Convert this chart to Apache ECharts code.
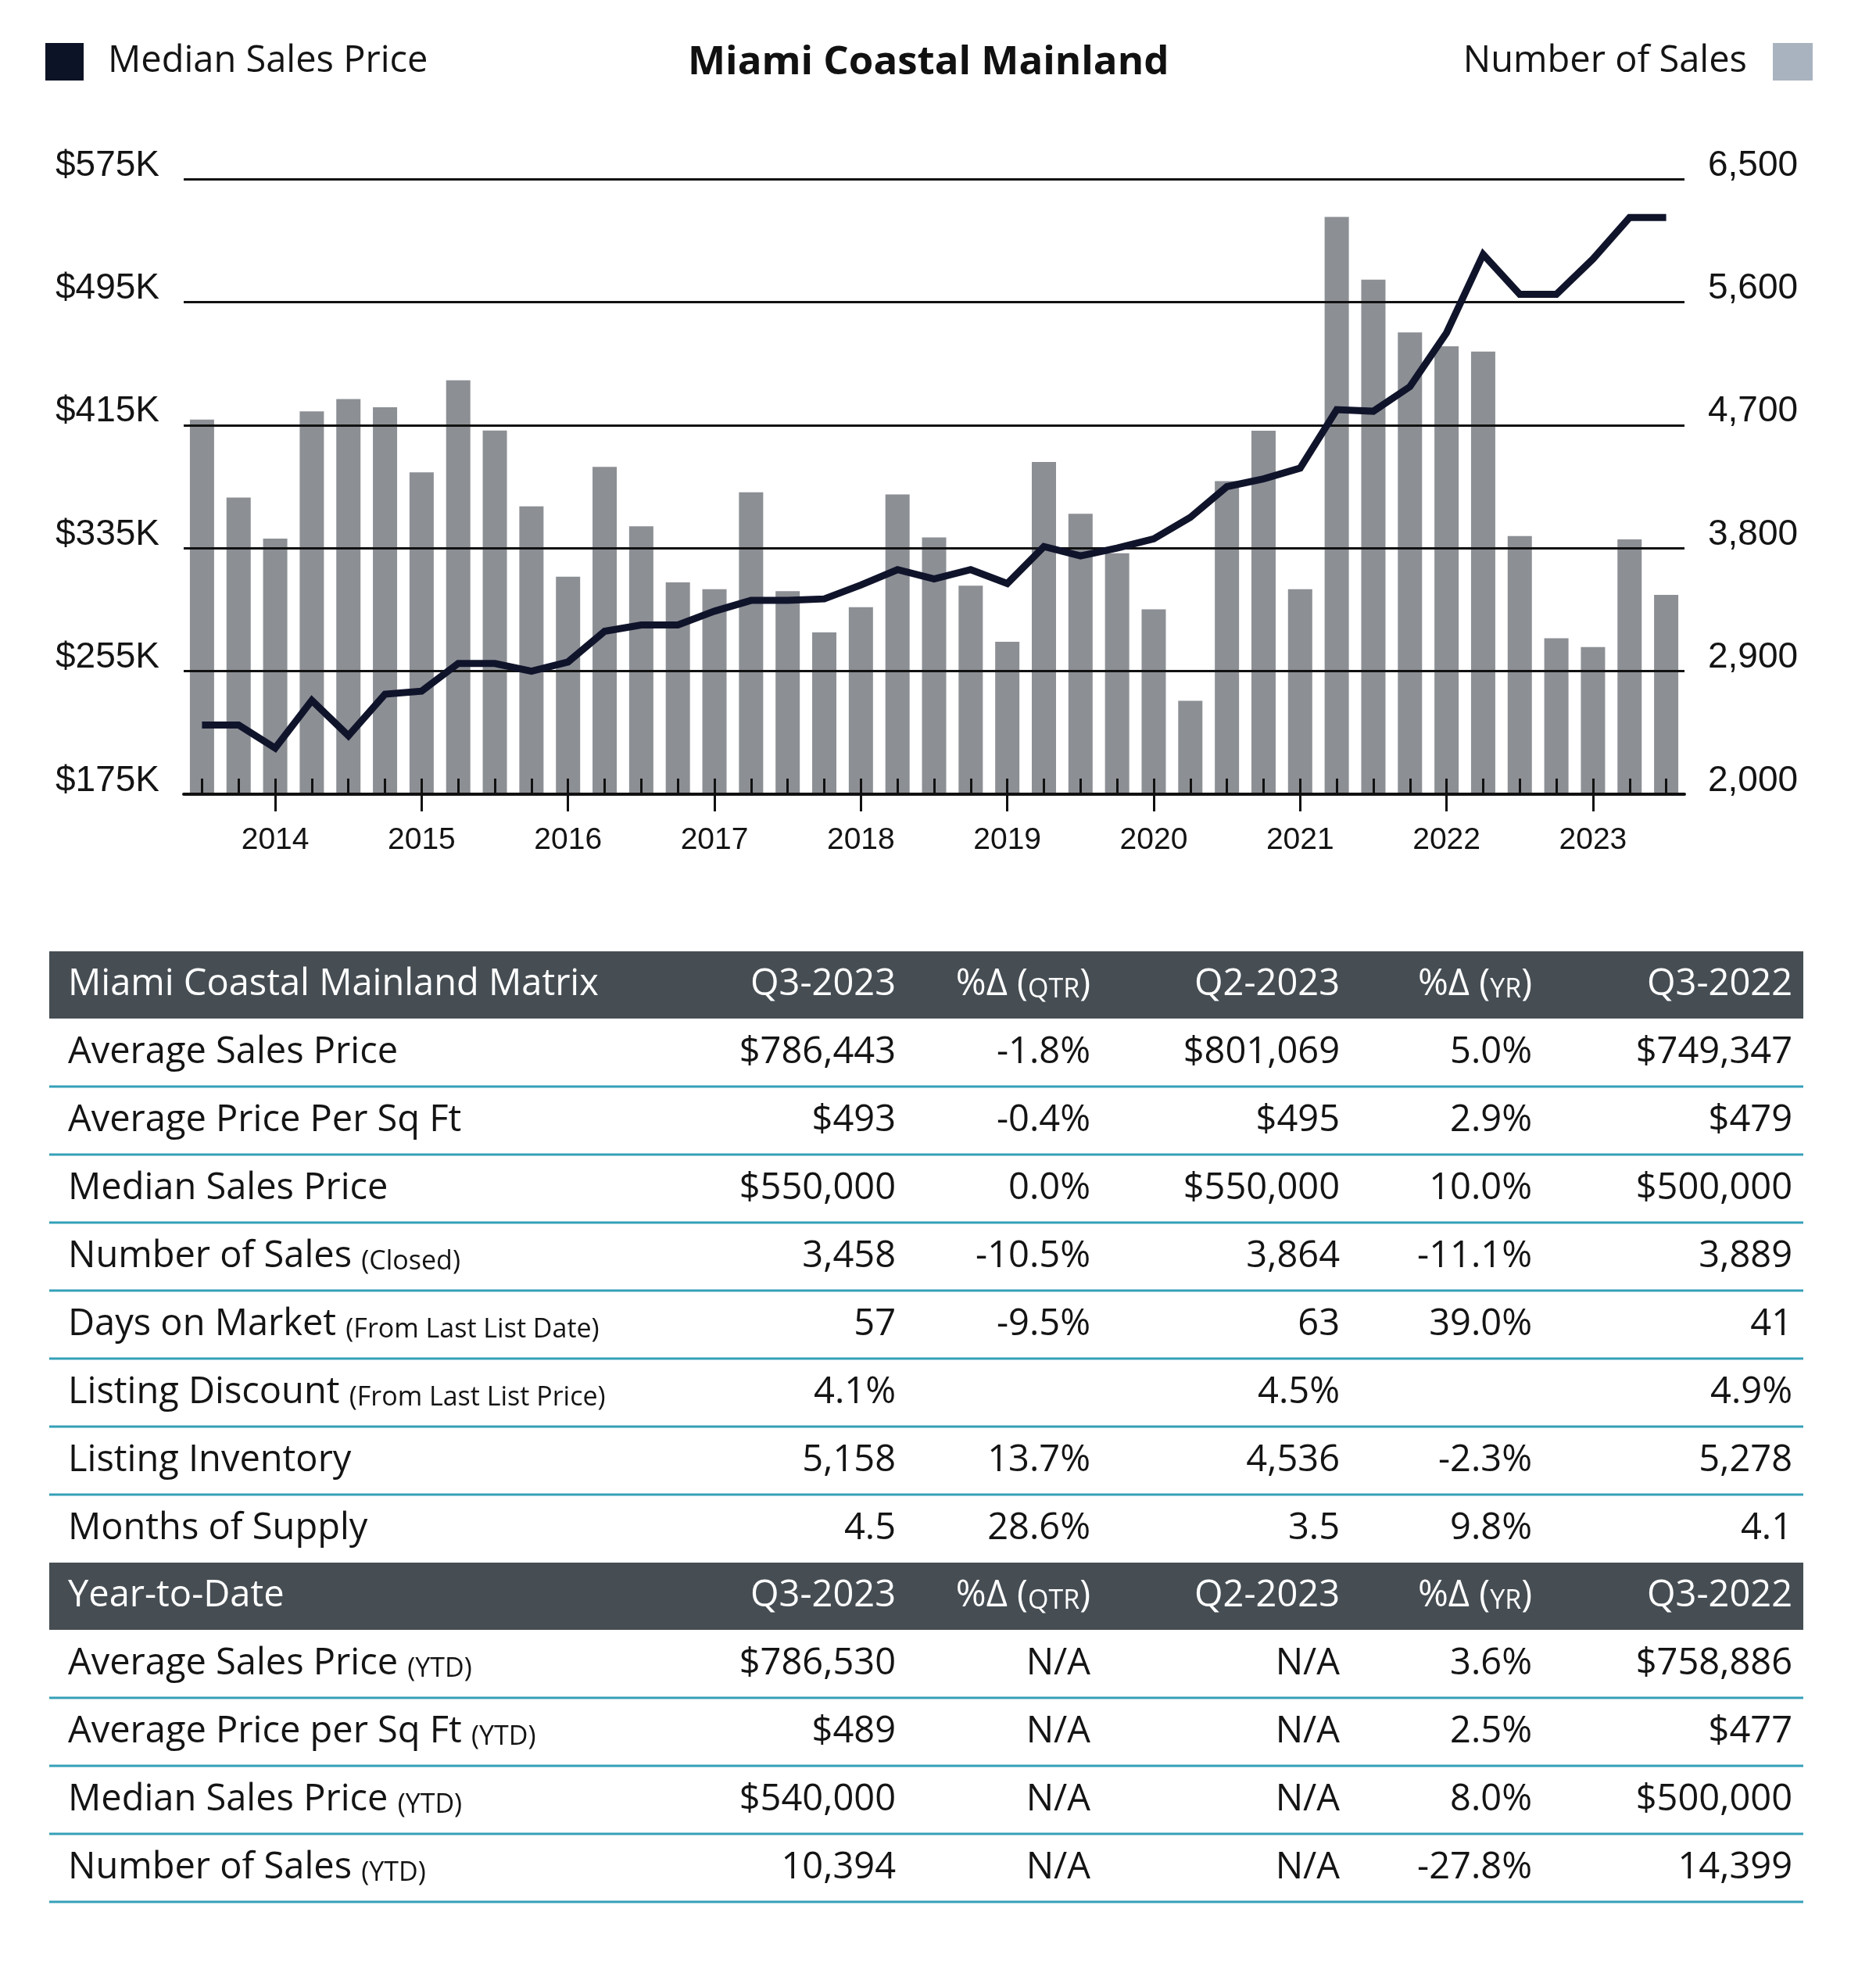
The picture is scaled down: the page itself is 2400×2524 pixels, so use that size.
<!DOCTYPE html>
<html>
<head>
<meta charset="utf-8">
<script src="https://cdn.jsdelivr.net/npm/echarts@6/dist/echarts.min.js"></script>
<style>
html,body{margin:0;padding:0;background:#ffffff;}
#chart{width:2400px;height:2524px;}
</style>
</head>
<body>
<div id="chart"></div>
<script>
// ---------- chart data ----------
const quarters = [
  'Q3-2013','Q4-2013',
  'Q1-2014','Q2-2014','Q3-2014','Q4-2014',
  'Q1-2015','Q2-2015','Q3-2015','Q4-2015',
  'Q1-2016','Q2-2016','Q3-2016','Q4-2016',
  'Q1-2017','Q2-2017','Q3-2017','Q4-2017',
  'Q1-2018','Q2-2018','Q3-2018','Q4-2018',
  'Q1-2019','Q2-2019','Q3-2019','Q4-2019',
  'Q1-2020','Q2-2020','Q3-2020','Q4-2020',
  'Q1-2021','Q2-2021','Q3-2021','Q4-2021',
  'Q1-2022','Q2-2022','Q3-2022','Q4-2022',
  'Q1-2023','Q2-2023','Q3-2023'
];
// Median Sales Price, in $K
const medianPriceK = [220,220,205,236,213,240,242,260,260,255,
  261,281,285,285,294,301,301,302,311,321,
  315,321,312,336,330,335,341,355,375,380,
  387,425,424,440,475,526,500,500,523,550,550];
// Number of Sales
const salesCount = [4740,4170,3870,4800,4890,4830,4355,5027,4660,4105,
  3591,4395,3960,3550,3499,4208,3485,3184,3368,4193,
  3878,3525,3115,4430,4052,3763,3352,2684,4290,4659,
  3499,6223,5764,5378,5276,5238,3889,3141,3077,3864,3458];
const priceAxisTicks = [175,255,335,415,495,575];   // $K
const salesAxisTicks = [2000,2900,3800,4700,5600,6500];

// ---------- table data ----------
const matrixHeader = ['Miami Coastal Mainland Matrix','Q3-2023','%Δ (QTR)','Q2-2023','%Δ (YR)','Q3-2022'];
const matrixRows = [
  ['Average Sales Price','$786,443','-1.8%','$801,069','5.0%','$749,347'],
  ['Average Price Per Sq Ft','$493','-0.4%','$495','2.9%','$479'],
  ['Median Sales Price','$550,000','0.0%','$550,000','10.0%','$500,000'],
  ['Number of Sales (Closed)','3,458','-10.5%','3,864','-11.1%','3,889'],
  ['Days on Market (From Last List Date)','57','-9.5%','63','39.0%','41'],
  ['Listing Discount (From Last List Price)','4.1%','','4.5%','','4.9%'],
  ['Listing Inventory','5,158','13.7%','4,536','-2.3%','5,278'],
  ['Months of Supply','4.5','28.6%','3.5','9.8%','4.1']
];
const ytdHeader = ['Year-to-Date','Q3-2023','%Δ (QTR)','Q2-2023','%Δ (YR)','Q3-2022'];
const ytdRows = [
  ['Average Sales Price (YTD)','$786,530','N/A','N/A','3.6%','$758,886'],
  ['Average Price per Sq Ft (YTD)','$489','N/A','N/A','2.5%','$477'],
  ['Median Sales Price (YTD)','$540,000','N/A','N/A','8.0%','$500,000'],
  ['Number of Sales (YTD)','10,394','N/A','N/A','-27.8%','14,399']
];

// ---------- styling ----------
const TEXT_FONT = "'Open Sans','Noto Sans',sans-serif";
const AXIS_FONT = "'Liberation Sans',Arial,sans-serif";
const INK = '#141414';
const LINE_COLOR = '#10142b';
const BAR_COLOR = '#8c8f94';
const HEADER_BG = '#464e54';
const RULE_COLOR = '#35a0b8';

const isYearTick = (idx) => quarters[idx].indexOf('Q1') === 0;

// ---------- table graphics ----------
const tableLeft = 63, tableRight = 2307, labelX = 87;
const colRight = [1146, 1395, 1714, 1960, 2293];
const headerH = 86, rowH = 87;

function toRich(str, isHeader) {
  let m;
  if (isHeader && (m = str.match(/^(.*\()([A-Z]+)(\))$/))) {
    return '{m|' + m[1] + '}{s|' + m[2] + '}{m|' + m[3] + '}';
  }
  const i = str.indexOf(' (');
  if (i > 0) return '{m|' + str.slice(0, i + 1) + '}{s|' + str.slice(i + 1) + '}';
  return '{m|' + str + '}';
}
function cell(str, x, y, align, color, isHeader) {
  return {
    type: 'text', x: x, y: y, silent: true, z: 20,
    style: {
      text: toRich(str, isHeader),
      align: align, verticalAlign: 'middle',
      fontSize: 47, fontFamily: TEXT_FONT, fill: color,
      rich: {
        m: { fontSize: 47, fontFamily: TEXT_FONT, fill: color, verticalAlign: 'bottom' },
        s: { fontSize: 34, fontFamily: TEXT_FONT, fill: color, verticalAlign: 'bottom' }
      }
    }
  };
}
function section(header, rows, top, ruleLast) {
  const els = [];
  els.push({ type: 'rect', silent: true, z: 10,
    shape: { x: tableLeft, y: top, width: tableRight - tableLeft, height: headerH },
    style: { fill: HEADER_BG } });
  const hc = top + headerH / 2;
  els.push(cell(header[0], labelX, hc, 'left', '#ffffff', true));
  for (let c = 1; c < header.length; c++) els.push(cell(header[c], colRight[c - 1], hc, 'right', '#ffffff', true));
  let y = top + headerH;
  rows.forEach((r, ri) => {
    const cy = y + rowH / 2;
    els.push(cell(r[0], labelX, cy, 'left', INK, false));
    for (let c = 1; c < r.length; c++) if (r[c]) els.push(cell(r[c], colRight[c - 1], cy, 'right', INK, false));
    if (ri < rows.length - 1 || ruleLast) {
      els.push({ type: 'rect', silent: true, z: 10,
        shape: { x: tableLeft, y: y + rowH - 1.5, width: tableRight - tableLeft, height: 3 },
        style: { fill: RULE_COLOR } });
    }
    y += rowH;
  });
  return { els: els, bottom: y };
}
const sec1 = section(matrixHeader, matrixRows, 1217, false);
const sec2 = section(ytdHeader, ytdRows, sec1.bottom, true);

// ---------- chart ----------
const chart = echarts.init(document.getElementById('chart'), null, { renderer: 'canvas', width: 2400, height: 2524 });
const yLabelCommon = {
  fontFamily: AXIS_FONT, fontSize: 46, color: INK,
  verticalAlign: 'bottom', lineHeight: 34
};
const option = {
  backgroundColor: '#ffffff',
  animation: false,
  title: {
    text: 'Miami Coastal Mainland',
    left: 880, top: 55, padding: 0,
    textStyle: { fontFamily: TEXT_FONT, fontWeight: 'bold', fontSize: 51, color: '#111111' }
  },
  legend: [
    {
      data: [{ name: 'Median Sales Price', icon: 'rect', itemStyle: { color: '#0d1326' } }],
      left: 58, top: 55, padding: 0, itemWidth: 49, itemHeight: 48, selectedMode: false,
      textStyle: { fontFamily: TEXT_FONT, fontSize: 47, color: INK, padding: [0, 0, 0, 26] }
    },
    {
      data: [{ name: 'Number of Sales', icon: 'rect', itemStyle: { color: '#a9b3c0' } }],
      right: 81, top: 55, padding: 0, align: 'right', itemWidth: 51, itemHeight: 48, selectedMode: false,
      textStyle: { fontFamily: TEXT_FONT, fontSize: 47, color: INK, padding: [0, 28, 0, 0] }
    }
  ],
  grid: { left: 235, right: 245, top: 229, height: 787, containLabel: false, outerBoundsMode: 'none' },
  xAxis: [
    {
      type: 'category', data: quarters, position: 'bottom', z: 3,
      axisLine: { show: true, lineStyle: { color: '#111111', width: 4 } },
      axisTick: { show: true, inside: true, length: 20, interval: 0, alignWithLabel: true,
        lineStyle: { color: '#111111', width: 3 } },
      axisLabel: { show: false },
      splitLine: { show: false }
    },
    {
      type: 'category', data: quarters, position: 'bottom', offset: 0, z: 3,
      axisLine: { show: false },
      axisTick: { show: true, inside: false, length: 22, alignWithLabel: true,
        interval: (i) => isYearTick(i),
        lineStyle: { color: '#111111', width: 3 } },
      axisLabel: { show: true, interval: (i) => isYearTick(i), margin: 40,
        fontFamily: AXIS_FONT, fontSize: 39, color: INK,
        formatter: (v) => v.slice(3) },
      splitLine: { show: false }
    }
  ],
  yAxis: [
    {
      type: 'value', position: 'left', z: 3,
      min: priceAxisTicks[0], max: priceAxisTicks[priceAxisTicks.length - 1],
      interval: priceAxisTicks[1] - priceAxisTicks[0],
      axisLine: { show: false }, axisTick: { show: false },
      splitLine: { show: true, lineStyle: { color: '#111111', width: 3 } },
      axisLabel: Object.assign({ margin: 31, formatter: (v) => '$' + v + 'K' }, yLabelCommon)
    },
    {
      type: 'value', position: 'right', z: 3,
      min: salesAxisTicks[0], max: salesAxisTicks[salesAxisTicks.length - 1],
      interval: salesAxisTicks[1] - salesAxisTicks[0],
      axisLine: { show: false }, axisTick: { show: false },
      splitLine: { show: false },
      axisLabel: Object.assign({ margin: 30, formatter: (v) => v.toLocaleString('en-US') }, yLabelCommon)
    }
  ],
  series: [
    {
      name: 'Number of Sales', type: 'bar', xAxisIndex: 0, yAxisIndex: 1,
      data: salesCount, barWidth: 31, z: 2,
      itemStyle: { color: BAR_COLOR }
    },
    {
      name: 'Median Sales Price', type: 'line', xAxisIndex: 0, yAxisIndex: 0,
      data: medianPriceK, symbol: 'none', z: 5,
      itemStyle: { color: LINE_COLOR },
      lineStyle: { color: LINE_COLOR, width: 9, join: 'miter', cap: 'butt' }
    }
  ],
  graphic: { elements: sec1.els.concat(sec2.els) }
};
chart.setOption(option);
</script>
</body>
</html>
